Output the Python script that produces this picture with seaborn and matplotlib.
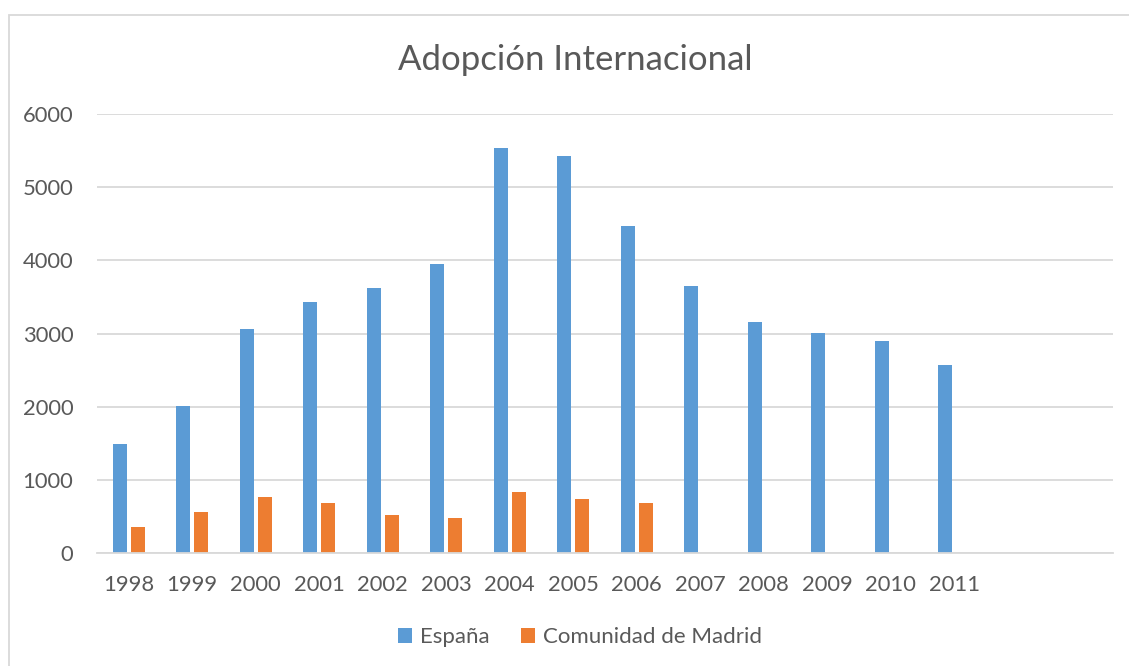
import pandas as pd
import numpy as np
import matplotlib
matplotlib.use("Agg")
import matplotlib.pyplot as plt
from matplotlib.patches import Patch, Rectangle
import seaborn as sns

# data
years = ["1998", "1999", "2000", "2001", "2002", "2003", "2004", "2005",
         "2006", "2007", "2008", "2009", "2010", "2011", "2012", "2013"]
year_labels = ["1998", "1999", "2000", "2001", "2002", "2003", "2004", "2005",
               "2006", "2007", "2008", "2009", "2010", "2011", "", ""]
espana = [1487, 2006, 3062, 3428, 3625, 3951, 5541, 5423,
          4472, 3648, 3156, 3006, 2891, 2573, np.nan, np.nan]
madrid = [360, 564, 760, 678, 523, 482, 837, 737,
          685, np.nan, np.nan, np.nan, np.nan, np.nan, np.nan, np.nan]
series = ["España", "Comunidad de Madrid"]
colors = ["#5B9BD5", "#ED7D31"]

# long format for seaborn
df = pd.DataFrame({"year": years, series[0]: espana, series[1]: madrid})
df_long = df.melt(id_vars="year", var_name="serie", value_name="value")

sns.set_style("white")
plt.rcParams["font.family"] = ["Lato", "DejaVu Sans"]

fig = plt.figure(figsize=(11.29, 6.66), dpi=100)
ax = fig.add_axes([97 / 1129, 1 - 553 / 666, (1113 - 97) / 1129, (553 - 114) / 666])

sns.barplot(data=df_long, x="year", y="value", hue="serie", order=years,
            hue_order=series, palette=colors, width=0.58, saturation=1,
            linewidth=0, legend=False, ax=ax)

# narrow the bars but keep their centres (Excel-like gap)
bar_w = 14 / 63.5
for p in ax.patches:
    c = p.get_x() + p.get_width() / 2
    p.set_width(bar_w)
    p.set_x(c - bar_w / 2)

ax.set_ylim(0, 6000)
ax.set_xlim(-0.5, len(years) - 0.5)
ax.set_yticks(range(0, 6001, 1000))
ax.set_xticks(range(len(years)))
ax.set_xticklabels(year_labels)
ax.tick_params(axis="both", length=0, labelsize=15.8, labelcolor="#595959")
ax.tick_params(axis="y", pad=17)
ax.tick_params(axis="x", pad=16)
ax.set_xlabel("")
ax.set_ylabel("")

ax.yaxis.grid(True, color="#D9D9D9", linewidth=1.3)
ax.set_axisbelow(True)
for side in ["top", "right", "left"]:
    ax.spines[side].set_visible(False)
ax.spines["bottom"].set_color("#D9D9D9")
ax.spines["bottom"].set_linewidth(1.3)

# title
fig.text(575 / 1129, 1 - 60 / 666, "Adopción Internacional", ha="center", va="center",
         fontsize=25, color="#595959")

# legend
handles = [Patch(facecolor=c, edgecolor="none") for c in colors]
fig.legend(handles, series, loc="center", bbox_to_anchor=(580 / 1129, 1 - 637 / 666),
           ncol=2, frameon=False, fontsize=16, labelcolor="#595959",
           handlelength=0.64, handleheight=0.64, handletextpad=0.35, columnspacing=1.4)

# chart border
fig.patches.append(Rectangle((9 / 1129, -0.05), 1.2, 1 - 15 / 666 + 0.05,
                             transform=fig.transFigure, fill=False,
                             edgecolor="#D9D9D9", linewidth=1.3))

fig.savefig("out.png", dpi=100)
